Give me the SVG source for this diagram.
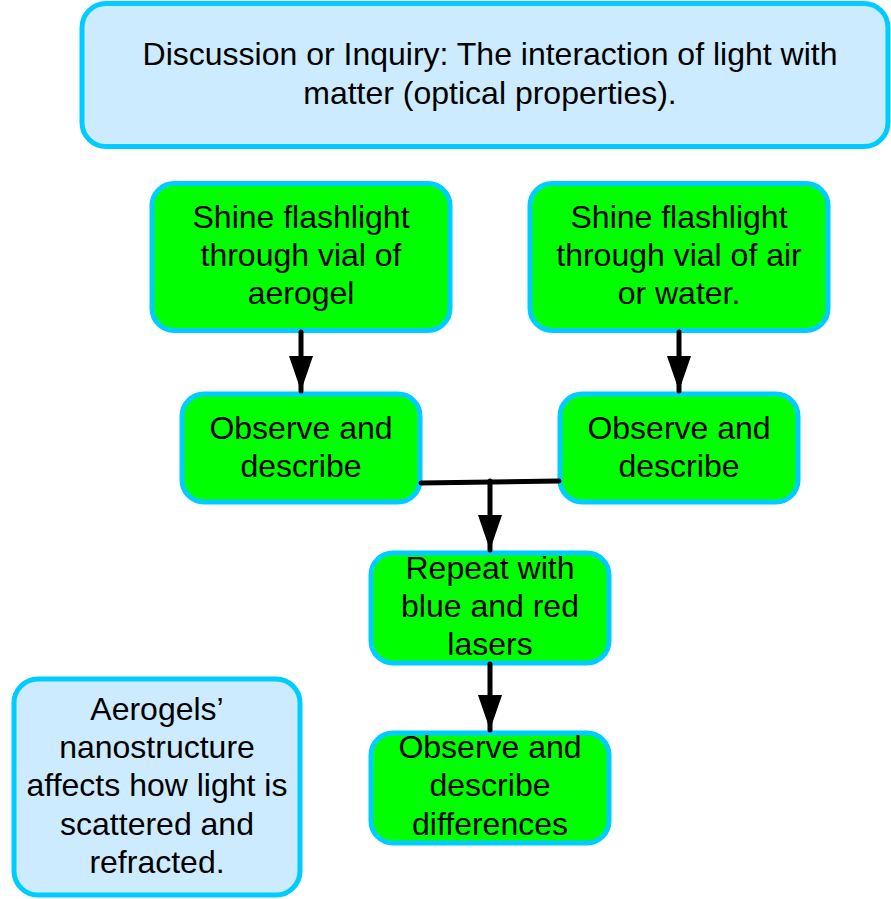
<svg xmlns="http://www.w3.org/2000/svg" width="891" height="899" viewBox="0 0 891 899">
<style>
.g{fill:#00FF00;stroke:#00CCFF;stroke-width:5}
.b{fill:#CCEBFF;stroke:#00CCFF;stroke-width:5}
text{font-family:"Liberation Sans",Arial,sans-serif;font-size:32px;fill:#000;text-anchor:middle}
.c{stroke:#000;stroke-width:5;fill:none;stroke-linecap:round}
</style>
<defs>
<marker id="ah" markerUnits="userSpaceOnUse" markerWidth="36" markerHeight="24" refX="35" refY="12" orient="auto" viewBox="0 0 36 24">
<path d="M0,0 L35,12 L0,24 Z" fill="#000"/>
</marker>
</defs>
<rect width="891" height="899" fill="#fff"/>
<g id="title">
<rect class="b" x="82" y="3.5" width="806" height="143" rx="24"/>
<text x="490" y="65">Discussion or Inquiry: The interaction of light with</text>
<text x="490" y="104">matter (optical properties).</text>
</g>
<g id="shine-aerogel">
<rect class="g" x="152" y="183.5" width="298" height="147" rx="22"/>
<text x="301" y="228">Shine flashlight</text>
<text x="301" y="266">through vial of</text>
<text x="301" y="304">aerogel</text>
</g>
<g id="shine-air">
<rect class="g" x="530" y="183.5" width="298" height="147" rx="22"/>
<text x="679" y="228">Shine flashlight</text>
<text x="679" y="266">through vial of air</text>
<text x="679" y="304">or water.</text>
</g>
<g id="observe-1">
<rect class="g" x="182" y="394" width="238" height="108" rx="22"/>
<text x="301" y="439">Observe and</text>
<text x="301" y="477">describe</text>
</g>
<g id="observe-2">
<rect class="g" x="560" y="394" width="238" height="108" rx="22"/>
<text x="679" y="439">Observe and</text>
<text x="679" y="477">describe</text>
</g>
<g id="repeat">
<rect class="g" x="371" y="553" width="238" height="110" rx="22"/>
<text x="490" y="579">Repeat with</text>
<text x="490" y="617">blue and red</text>
<text x="490" y="655">lasers</text>
</g>
<g id="observe-diff">
<rect class="g" x="371" y="733" width="238" height="110" rx="22"/>
<text x="490" y="758">Observe and</text>
<text x="490" y="796">describe</text>
<text x="490" y="835">differences</text>
</g>
<g id="note">
<rect class="b" x="14" y="679" width="286" height="216" rx="24"/>
<text x="157" y="720">Aerogels’</text>
<text x="157" y="758">nanostructure</text>
<text x="157" y="796">affects how light is</text>
<text x="157" y="835">scattered and</text>
<text x="157" y="873">refracted.</text>
</g>
<g id="connectors">
<line class="c" x1="301" y1="332" x2="301" y2="391" marker-end="url(#ah)"/>
<line class="c" x1="679" y1="332" x2="679" y2="391" marker-end="url(#ah)"/>
<line class="c" x1="421" y1="483" x2="559" y2="481"/>
<line class="c" x1="490" y1="481" x2="490" y2="550" marker-end="url(#ah)"/>
<line class="c" x1="490" y1="664" x2="490" y2="730" marker-end="url(#ah)"/>
</g>
</svg>
